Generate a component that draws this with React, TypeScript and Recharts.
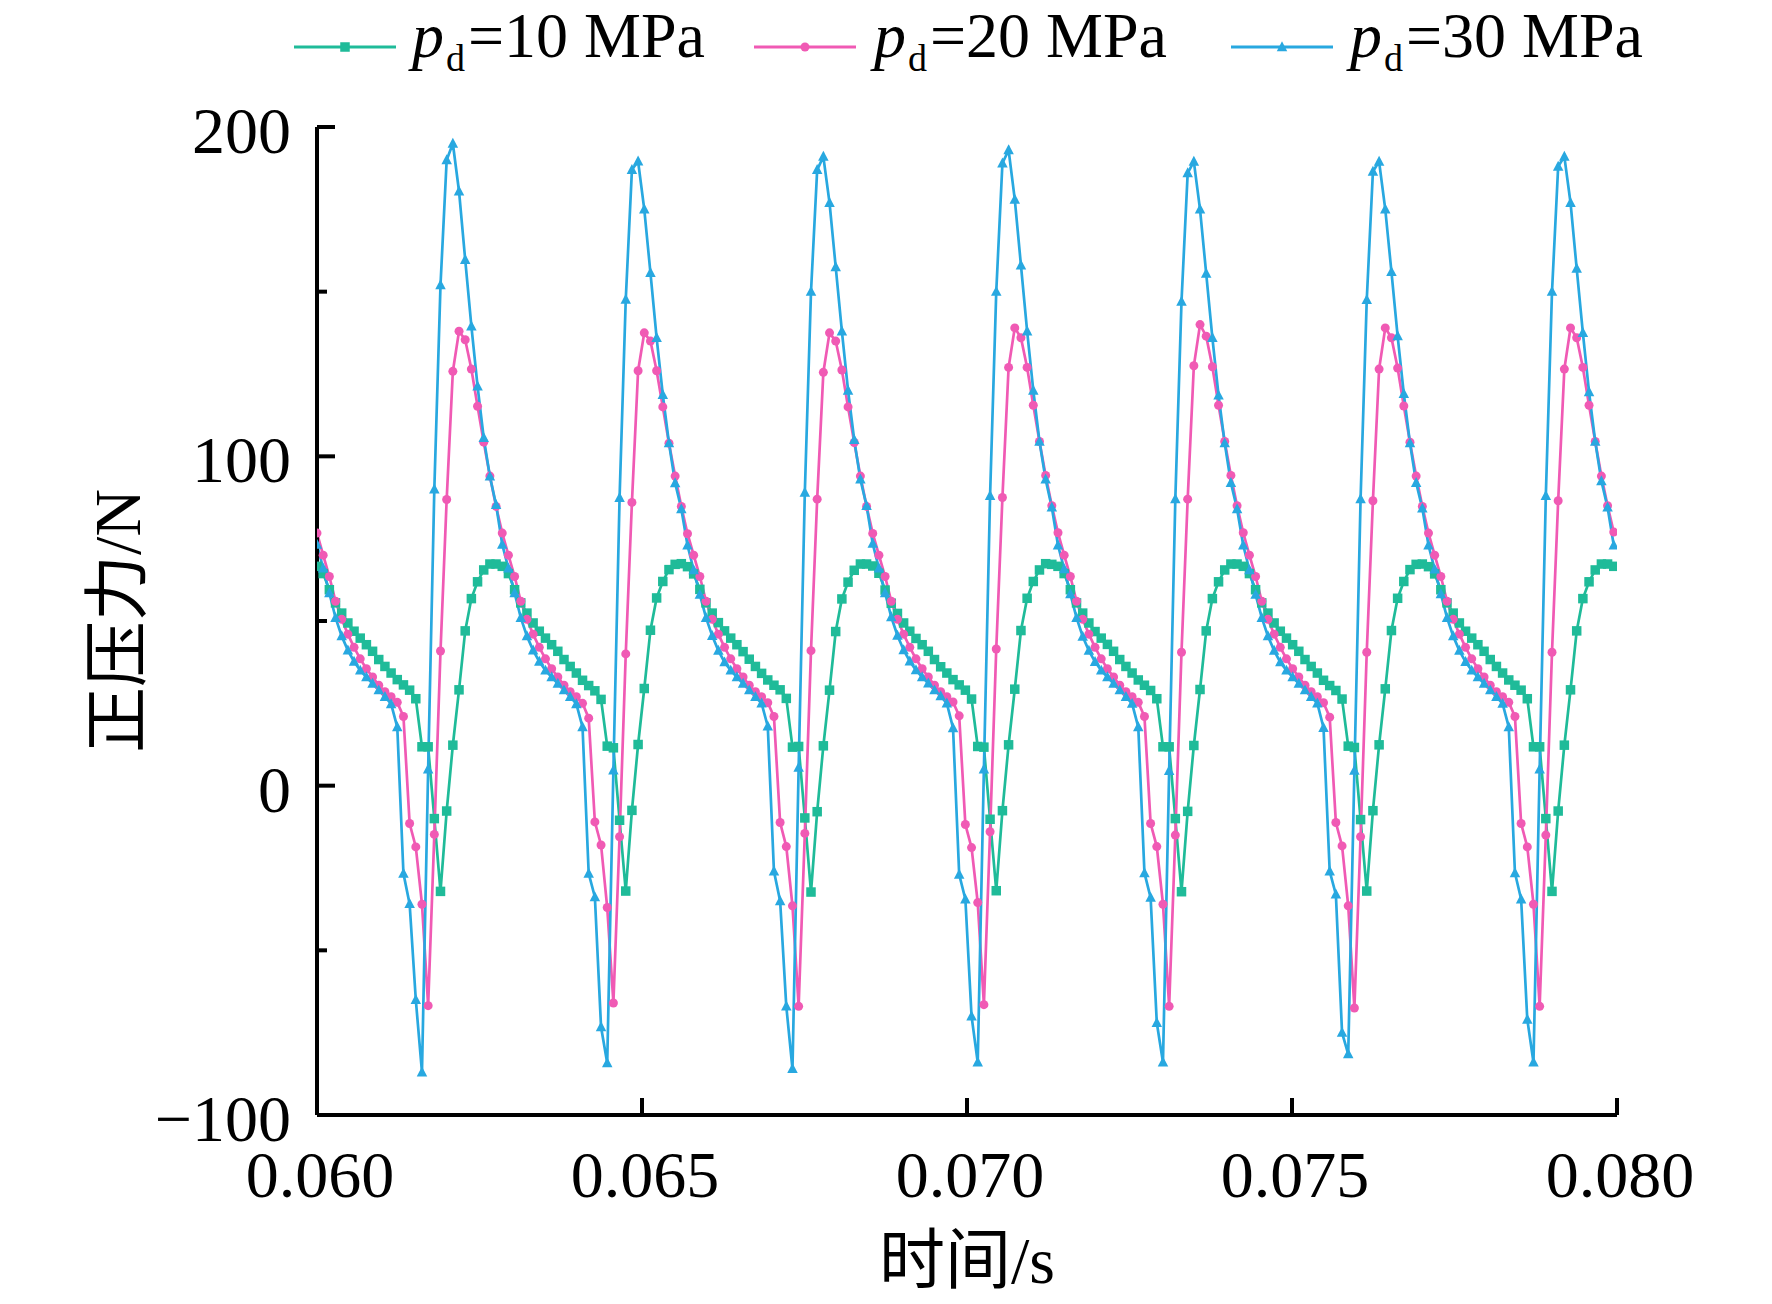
import React from 'react';
import { LineChart, Line, XAxis, YAxis, Legend } from 'recharts';

// ---------------- data ----------------
const SERIES_KEYS = ['p10', 'p20', 'p30'];
const SERIES_LABELS = ['10 MPa', '20 MPa', '30 MPa'];
const SERIES_COLORS = ['#1FBB99', '#F05AB4', '#28A8E0'];

const X_TICKS = [0.06, 0.065, 0.07, 0.075, 0.08];
const X_TICK_LABELS = ['0.060', '0.065', '0.070', '0.075', '0.080'];
const Y_TICKS = [-100, -50, 0, 50, 100, 150, 200];
const Y_LABELED_TICKS = [-100, 0, 100, 200];
const Y_TICK_LABELS = ['\u2212100', '0', '100', '200'];

const FIRST_SAMPLE_TIME = 0.06;
const SAMPLE_STEP = 0.000095;

// pd = 10 MPa
const GREEN = [
  66.6, 64.4, 59.5, 55.5, 52.4, 49.4, 46.9, 44.8, 42.8, 40.8, 38.3, 36.2, 34.2,
  32.2, 30.6, 29, 26.4, 11.8, 11.8, -10, -32.1, -7.7, 12.3, 29.1, 47, 56.8, 61.9, 65.5, 67.3, 67.3, 66.6, 64.4, 59.5, 55.5, 52.4, 49.4, 46.9, 44.8, 42.8, 40.8, 38.3, 36.2, 34.2,
  32, 30.4, 28.8, 26.2, 12, 11.5, -10.5, -32, -7.5, 12.5, 29.5, 47.2, 57, 62, 65.6, 67.2, 67.4, 66.5, 64.3, 59.6, 55.5, 52.4, 49.5, 47, 44.8, 42.8, 40.7, 38.4, 36.2, 34.1,
  32.1, 30.5, 29.1, 26.5, 11.7, 11.9, -9.8, -32.3, -7.9, 12.1, 29, 46.8, 56.7, 61.8, 65.4, 67.3, 67.3, 66.7, 64.5, 59.4, 55.4, 52.3, 49.4, 46.9, 44.7, 42.8, 40.8, 38.3, 36.1, 34.2,
  32.2, 30.6, 29, 26.3, 11.9, 11.7, -10.2, -31.9, -7.6, 12.4, 29.3, 47.1, 56.9, 62, 65.5, 67.4, 67.2, 66.6, 64.4, 59.5, 55.5, 52.4, 49.4, 46.8, 44.8, 42.9, 40.8, 38.3, 36.2, 34.2,
  32.1, 30.5, 28.9, 26.4, 11.8, 11.8, -10, -32.2, -7.8, 12.2, 29.2, 47, 56.8, 61.9, 65.5, 67.3, 67.3, 66.6, 64.4, 59.5, 55.5, 52.4, 49.4, 46.9, 44.8, 42.8, 40.8, 38.3, 36.2, 34.2,
  32, 30.4, 28.9, 26.3, 12, 11.6, -10.3, -32, -7.6, 12.4, 29.4, 47.1, 56.9, 62, 65.6, 67.2, 67.3, 66.5, 64.3, 59.5, 55.5, 52.4, 49.4, 46.9, 44.8, 42.8, 40.8, 38.3, 36.2, 34.2,
  32.1, 30.5, 29, 26.4, 11.8, 11.8, -10, -32.1, -7.7, 12.3, 29.1, 47, 56.8, 61.9, 65.5, 67.3, 67.3, 66.6,
];

// pd = 20 MPa
const PINK = [
  76.7, 70, 63.5, 56, 50.5, 46, 42, 38.5, 35.5, 33, 30.5, 28.5, 27,
  25.3, 21, -11.5, -18.6, -36, -66.8, -14.8, 40.9, 86.9, 125.8, 138, 135.4, 126.5, 115.2, 104.3, 94, 84.8, 76.7, 70, 63.5, 56, 50.5, 46, 42, 38.5, 35.5, 33, 30.5, 28.5, 27,
  25, 20.5, -11, -18, -37, -66, -15.5, 40, 86, 126, 137.5, 135, 126, 115, 104, 94, 84.8, 76.5, 70, 63.5, 56, 50.5, 46, 42, 38.5, 35.5, 33, 30.5, 28.5, 27,
  25.2, 21, -11.2, -18.5, -36.5, -67, -14.5, 41, 87, 125.5, 137.5, 135, 126.2, 115, 104.2, 94, 84.8, 76.6, 70, 63.5, 56, 50.5, 46, 42, 38.5, 35.5, 33, 30.5, 28.5, 27,
  25.4, 21.2, -11.8, -18.8, -35.5, -66.5, -14, 41.5, 87.5, 127, 139, 136, 127, 115.5, 104.5, 94.2, 85, 76.8, 70, 63.5, 56, 50.5, 46, 42, 38.5, 35.5, 33, 30.5, 28.5, 27,
  25.3, 21, -11.5, -18.5, -36, -67, -15, 40.5, 87, 127.5, 140, 136.5, 127.2, 115.5, 104.5, 94.2, 85, 76.8, 70, 63.5, 56, 50.5, 46, 42, 38.5, 35.5, 33, 30.5, 28.5, 27,
  25.2, 20.8, -11.2, -18.3, -36.5, -67.5, -15.5, 40.5, 86.5, 126.5, 139, 136, 126.8, 115.3, 104.3, 94, 84.8, 76.7, 70, 63.5, 56, 50.5, 46, 42, 38.5, 35.5, 33, 30.5, 28.5, 27,
  25.3, 21, -11.5, -18.6, -36, -67, -15, 40.5, 86.5, 126.5, 139, 136, 127, 115.5, 104.5, 94, 85, 77,
];

// pd = 30 MPa
const BLUE = [
  73.2, 66, 58.5, 51, 45.4, 41.1, 37.7, 35, 33, 31, 29, 27, 24.8,
  17.8, -26.7, -35.9, -65, -87, 5, 90, 152, 190, 195, 180.5, 159.7, 139.5, 121.3, 105.6, 93.9, 85.3, 73.2, 66, 58.5, 51, 45.4, 41.1, 37.7, 35, 33, 31, 29, 27, 24.8,
  17.8, -26.7, -33.8, -73.3, -84.2, 4.7, 87.4, 147.6, 187, 189.6, 175, 155.7, 136, 118.7, 104, 91.9, 84, 73, 65.5, 58, 51, 45.5, 41, 37.5, 35, 33, 31, 29, 27, 25,
  18, -26, -35, -67, -86, 5.5, 89, 150, 187, 191, 177, 157.5, 138, 120, 105, 93, 85, 73.5, 66, 58.5, 51.2, 45.6, 41.2, 37.8, 35.1, 33, 31.1, 29, 27.2, 25,
  17.5, -27, -34.5, -70, -84, 5, 88, 150, 189, 193, 178, 158, 138, 120, 104.5, 93, 84.5, 73, 65.8, 58.2, 51, 45.3, 41, 37.6, 35, 33, 31, 29, 27, 24.9,
  17.8, -26.5, -34, -72, -84, 4.5, 87, 147, 186, 189.5, 175, 155.5, 136, 118.5, 104, 92, 84, 73, 65.5, 58, 51, 45.4, 41, 37.5, 35, 33, 31, 29, 27, 25,
  17.6, -26, -33, -75, -81.5, 4.6, 87, 147.5, 186.5, 189.5, 175, 156, 136.5, 119, 104, 92, 84.2, 73, 65.7, 58.2, 51, 45.4, 41, 37.6, 35, 33, 31, 29, 27, 24.9,
  17.8, -26.5, -34.5, -71, -84, 5, 88, 150, 188, 191, 177, 157, 137.5, 119.5, 104.5, 92.5, 84.5, 73,
];

const chartData = GREEN.map((g, j) => ({
  t: FIRST_SAMPLE_TIME + j * SAMPLE_STEP,
  p10: g,
  p20: PINK[j],
  p30: BLUE[j],
}));

// ---------------- styles ----------------
const FONT = "'Liberation Serif', 'Times New Roman', 'Noto Sans CJK SC', serif";
const FS = 66;
const W = 1772;
const H = 1304;

// ---------------- markers ----------------
const SquareMark = ({ cx, cy, color, s = 9.5 }: any) => (
  <rect x={cx - s / 2} y={cy - s / 2} width={s} height={s} fill={color} />
);
const CircleMark = ({ cx, cy, color, r = 4.5 }: any) => (
  <circle cx={cx} cy={cy} r={r} fill={color} />
);
const TriMark = ({ cx, cy, color, s = 10.5 }: any) => (
  <path d={`M${cx},${cy - s * 0.55} L${cx + s / 2},${cy + s * 0.4} L${cx - s / 2},${cy + s * 0.4} Z`} fill={color} />
);
const MARKERS = [SquareMark, CircleMark, TriMark];

const makeDot = (idx: number) => (props: any) => {
  const { cx, cy, index } = props;
  if (cx == null || cy == null || isNaN(cx) || isNaN(cy)) return <g key={`d${idx}-${index}`} />;
  const M = MARKERS[idx];
  return <M key={`d${idx}-${index}`} cx={cx} cy={cy} color={SERIES_COLORS[idx]} />;
};

// ---------------- ticks ----------------
const XTick = (props: any) => {
  const { x, y, payload, index } = props;
  const i = typeof index === 'number' ? index : X_TICKS.findIndex((v) => Math.abs(v - payload.value) < 1e-9);
  return (
    <g>
      <line x1={x} y1={y} x2={x} y2={y - 17} stroke="#000" strokeWidth={4} />
      <text x={x + 3} y={y + 82} textAnchor="middle" fontSize={FS} fontFamily={FONT} fill="#000">
        {X_TICK_LABELS[i]}
      </text>
    </g>
  );
};

const YTick = (props: any) => {
  const { x, y, payload } = props;
  const li = Y_LABELED_TICKS.indexOf(payload.value);
  const len = li >= 0 ? 18 : 10;
  return (
    <g>
      <line x1={x} y1={y} x2={x + len} y2={y} stroke="#000" strokeWidth={4} />
      {li >= 0 && (
        <text x={x - 26} y={y + 26} textAnchor="end" fontSize={FS} fontFamily={FONT} fill="#000">
          {Y_TICK_LABELS[li]}
        </text>
      )}
    </g>
  );
};

// ---------------- legend ----------------
const LEGEND_LINE_X = [294, 754, 1231];
const LEGEND_TEXT_X = [412, 874, 1350];
const LegendContent = () => (
  <svg width={W} height={90} style={{ display: 'block' }}>
    {SERIES_KEYS.map((k, i) => {
      const x0 = LEGEND_LINE_X[i];
      const tx = LEGEND_TEXT_X[i];
      const M = MARKERS[i];
      return (
        <g key={k}>
          <line x1={x0} y1={47} x2={x0 + 102} y2={47} stroke={SERIES_COLORS[i]} strokeWidth={3} />
          <M cx={x0 + 51} cy={47} color={SERIES_COLORS[i]} />
          <text x={tx} y={57} fontSize={64} fontStyle="italic" fontFamily={FONT} fill="#000">p</text>
          <text x={tx + 34} y={71} fontSize={38} fontFamily={FONT} fill="#000">d</text>
          <text x={tx + 56} y={57} fontSize={64} fontFamily={FONT} fill="#000">={SERIES_LABELS[i]}</text>
        </g>
      );
    })}
  </svg>
);

// ---------------- axis titles ----------------
const XTitle = (props: any) => {
  const vb = props.viewBox || {};
  return (
    <text x={vb.x + vb.width / 2} y={1283} textAnchor="middle" fontSize={FS} fontFamily={FONT} fill="#000">
      时间/s
    </text>
  );
};
const YTitle = (props: any) => {
  const vb = props.viewBox || {};
  const cy = vb.y + vb.height / 2;
  return (
    <text x={140} y={cy} transform={`rotate(-90 140 ${cy})`} textAnchor="middle" fontSize={FS} fontFamily={FONT} fill="#000">
      正压力/N
    </text>
  );
};

export default function App() {
  return (
    <div style={{ width: W, height: H, marginLeft: -8, marginTop: -8, background: '#fff', position: 'relative' }}>
      <LineChart
        width={W}
        height={H}
        data={chartData}
        margin={{ top: 127, right: 155, bottom: 0, left: 0 }}
      >
        <XAxis
          type="number"
          dataKey="t"
          domain={[0.06, 0.08]}
          ticks={X_TICKS}
          allowDataOverflow
          height={189}
          tickSize={0}
          tickMargin={0}
          tickLine={false}
          axisLine={{ stroke: '#000', strokeWidth: 4 }}
          tick={<XTick />}
          interval={0}
          label={XTitle}
        />
        <YAxis
          type="number"
          domain={[-100, 200]}
          ticks={Y_TICKS}
          allowDataOverflow
          width={317}
          tickSize={0}
          tickMargin={0}
          tickLine={false}
          axisLine={{ stroke: '#000', strokeWidth: 4 }}
          tick={<YTick />}
          interval={0}
          label={YTitle}
        />
        <Legend
          verticalAlign="middle"
          align="center"
          layout="horizontal"
          content={<LegendContent />}
          wrapperStyle={{ top: 0, left: 0, width: W, height: 90 }}
        />
        {SERIES_KEYS.map((k, i) => (
          <Line
            key={k}
            type="linear"
            dataKey={k}
            stroke={SERIES_COLORS[i]}
            strokeWidth={2.7}
            dot={makeDot(i)}
            activeDot={false}
            isAnimationActive={false}
          />
        ))}
      </LineChart>
    </div>
  );
}
